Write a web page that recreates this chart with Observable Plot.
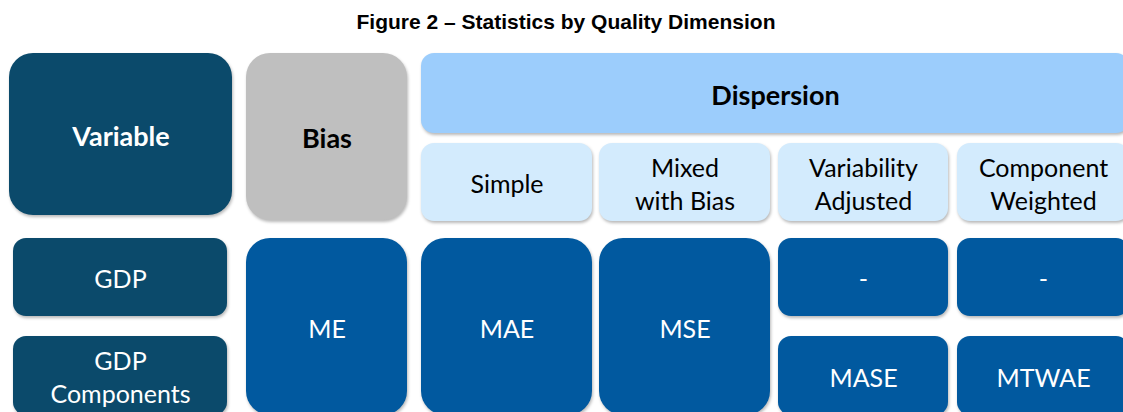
<!DOCTYPE html>
<html>
<head>
<meta charset="utf-8">
<script src="https://cdn.jsdelivr.net/npm/d3@7"></script>
<script src="https://cdn.jsdelivr.net/npm/@observablehq/plot@0.6"></script>
<style>
  html, body { margin: 0; padding: 0; background: #fff; overflow: hidden; }
  #title {
    box-sizing: border-box; width: 1123px; height: 40px; padding-top: 11px; padding-left: 9px;
    font-family: "Liberation Sans", Arial, sans-serif; font-weight: bold; font-size: 21px; line-height: 21px;
    text-align: center; color: #000;
  }
  #chart svg { display: block; overflow: hidden; }
  #chart svg g[aria-label="rect"] rect { filter: drop-shadow(1px 2px 1.5px rgba(0,0,0,0.28)); }
</style>
</head>
<body>
<div id="title"></div>
<div id="chart"></div>
<script>
// ---- Data (labels only) ----
const title = "Figure 2 – Statistics by Quality Dimension";
const headerGroups = ["Variable", "Bias", "Dispersion"];
const dispersionTypes = ["Simple", "Mixed\nwith Bias", "Variability\nAdjusted", "Component\nWeighted"];
const variables = ["GDP", "GDP\nComponents"];
const biasStat = ["ME"];
const sharedStats = ["MAE", "MSE"];          // Simple, Mixed with Bias (both variables)
const gdpStats = ["-", "-"];                 // Variability Adjusted, Component Weighted for GDP
const componentStats = ["MASE", "MTWAE"];    // Variability Adjusted, Component Weighted for components

// ---- Layout (grid geometry, page pixels) ----
const cols = [[9, 232], [246, 407], [421, 592], [599, 770], [778, 948], [957, 1129]];
const varCol = [13, 227];
const rows = {
  group: [53, 133], sub: [143, 221],
  data1: [238, 316], data2: [336, 415], dataAll: [238, 415]
};
const colors = {
  variable: "#0b4a6b", bias: "#bfbfbf", dispersion: "#9ccdfc",
  sub: "#d3ebfd", stat: "#01599f"
};

// ---- Build cells ----
const cells = [];
cells.push({text: headerGroups[0], x: cols[0], y: [53, 215], kind: "variable", bold: true, big: true});
cells.push({text: headerGroups[1], x: cols[1], y: [53, 220], kind: "bias", bold: true, big: true});
cells.push({text: headerGroups[2], x: [cols[2][0], cols[5][1]], y: rows.group, kind: "dispersion", bold: true});
dispersionTypes.forEach((t, i) => cells.push({text: t, x: cols[2 + i], y: rows.sub, kind: "sub"}));
cells.push({text: variables[0], x: varCol, y: rows.data1, kind: "variable"});
cells.push({text: variables[1], x: varCol, y: rows.data2, kind: "variable"});
cells.push({text: biasStat[0], x: cols[1], y: rows.dataAll, kind: "stat", big: true});
sharedStats.forEach((t, i) => cells.push({text: t, x: cols[2 + i], y: rows.dataAll, kind: "stat", big: true}));
gdpStats.forEach((t, i) => cells.push({text: t, x: cols[4 + i], y: rows.data1, kind: "stat"}));
componentStats.forEach((t, i) => cells.push({text: t, x: cols[4 + i], y: rows.data2, kind: "stat"}));

const darkKinds = new Set(["variable", "stat"]);
const opts = {
  x1: d => d.x[0], x2: d => d.x[1], y1: d => d.y[0], y2: d => d.y[1],
  fill: d => colors[d.kind]
};
const textOpts = (bold) => ({
  x: d => (d.x[0] + d.x[1]) / 2,
  y: d => (d.y[0] + d.y[1]) / 2,
  text: "text",
  fill: d => darkKinds.has(d.kind) ? "#ffffff" : "#000000",
  fontFamily: "Lato, 'Open Sans', sans-serif",
  fontSize: bold ? 27 : 25,
  fontWeight: bold ? "bold" : "normal",
  lineHeight: 1.32,
  lineAnchor: "middle",
  textAnchor: "middle"
});

document.getElementById("title").textContent = title;

const plot = Plot.plot({
  width: 1123,
  height: 372,
  margin: 0,
  x: {type: "linear", domain: [0, 1123], range: [0, 1123], axis: null},
  y: {type: "linear", domain: [40, 412], range: [0, 372], axis: null},
  color: {type: "identity"},
  marks: [
    Plot.rect(cells.filter(d => d.big), {...opts, rx: 24}),
    Plot.rect(cells.filter(d => !d.big), {...opts, rx: 13}),
    Plot.text(cells.filter(d => !d.bold), textOpts(false)),
    Plot.text(cells.filter(d => d.bold), textOpts(true))
  ]
});
document.getElementById("chart").appendChild(plot);
</script>
</body>
</html>
